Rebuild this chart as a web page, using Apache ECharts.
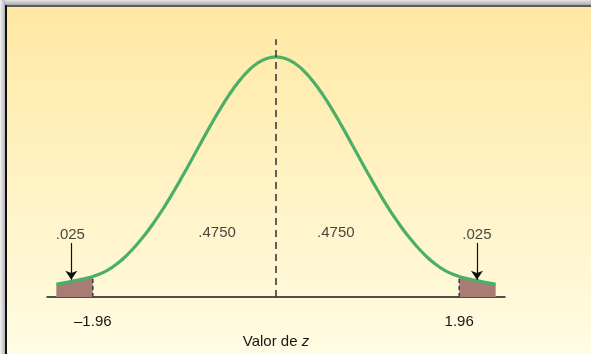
<!DOCTYPE html>
<html>
<head>
<meta charset="utf-8">
<script src="https://cdn.jsdelivr.net/npm/echarts@6/dist/echarts.min.js"></script>
<style>
  html, body { margin: 0; padding: 0; background: #ffffff; }
  #chart { width: 591px; height: 354px; }
</style>
</head>
<body>
<div id="chart"></div>
<script>
// Bell curve over the z axis (heights in density units, peak = .3989)
const curveZ = [-2.35, -2.3, -2.2, -2.1, -2.0, -1.9, -1.8, -1.7, -1.6, -1.5, -1.4, -1.3, -1.2, -1.1, -1.0,
  -0.9, -0.8, -0.7, -0.6, -0.5, -0.4, -0.3, -0.2, -0.1, 0.0, 0.1, 0.2, 0.3, 0.4, 0.5, 0.6, 0.7, 0.8, 0.9,
  1.0, 1.1, 1.2, 1.3, 1.4, 1.5, 1.6, 1.7, 1.8, 1.9, 2.0, 2.1, 2.2, 2.3, 2.35];
const curveY = [0.0217, 0.0229, 0.0256, 0.0287, 0.0323, 0.0375, 0.0448, 0.0553, 0.0689, 0.0852, 0.1040, 0.1252, 0.1486, 0.1740, 0.2009,
  0.2289, 0.2572, 0.2850, 0.3116, 0.3360, 0.3574, 0.3750, 0.3881, 0.3962, 0.3989, 0.3962, 0.3881, 0.3750, 0.3574, 0.3360, 0.3116, 0.2850, 0.2572, 0.2289,
  0.2009, 0.1740, 0.1486, 0.1252, 0.1040, 0.0852, 0.0689, 0.0553, 0.0448, 0.0375, 0.0323, 0.0287, 0.0256, 0.0229, 0.0217];

// Rejection tails (.025 each side)
const leftTailZ = [-2.35, -2.3, -2.2, -2.1, -2.0, -1.96];
const leftTailY = [0.0217, 0.0229, 0.0256, 0.0287, 0.0323, 0.0342];
const rightTailZ = [1.96, 2.0, 2.1, 2.2, 2.3, 2.35];
const rightTailY = [0.0342, 0.0323, 0.0287, 0.0256, 0.0229, 0.0217];

// Critical values and the mean line
const criticalZ = [-1.96, 1.96];
const criticalY = 0.0342;
const criticalLabels = ['\u20131.96', '1.96'];
const meanLineTop = 0.428;

// Area labels
const areaLabelText = ['.025', '.4750', '.4750', '.025'];
const areaLabelZ = [-2.2, -0.63, 0.64, 2.15];
const areaLabelY = [0.104, 0.106, 0.106, 0.104];

// Arrows pointing to the tails
const arrowZ = [-2.19, 2.15];
const arrowFromY = 0.090;
const arrowToY = 0.029;

const FONT = '"Liberation Sans", Arial, sans-serif';
const DARK = '#3a3a3a';
const TEXT = '#161616';

const pairs = (xs, ys) => xs.map((x, i) => [x, ys[i]]);

const chart = echarts.init(document.getElementById('chart'), null, { renderer: 'canvas' });

chart.setOption({
  animation: false,
  graphic: [
    // frame: grey bevel, dark edge lines, then the warm panel
    { type: 'rect', z: -10, shape: { x: 0, y: 0, width: 591, height: 354 }, style: { fill: '#bdbdbd' } },
    { type: 'rect', z: -10, shape: { x: 0, y: 0, width: 591, height: 5 },
      style: { fill: new echarts.graphic.LinearGradient(0, 0, 0, 1, [
        { offset: 0, color: '#e6e6e6' }, { offset: 1, color: '#a9a9a9' }]) } },
    { type: 'rect', z: -10, shape: { x: 0, y: 0, width: 5, height: 354 },
      style: { fill: new echarts.graphic.LinearGradient(0, 0, 1, 0, [
        { offset: 0, color: '#f2f2f2' }, { offset: 1, color: '#b5b5b5' }]) } },
    { type: 'rect', z: -9, shape: { x: 5, y: 5, width: 586, height: 2 }, style: { fill: '#5c5c5c' } },
    { type: 'rect', z: -9, shape: { x: 5, y: 5, width: 2, height: 349 }, style: { fill: '#111111' } },
    { type: 'rect', z: -8, shape: { x: 7, y: 7, width: 584, height: 347 },
      style: { fill: new echarts.graphic.LinearGradient(0, 0, 0, 1, [
        { offset: 0, color: '#ffe8a4' }, { offset: 1, color: '#fffce3' }]) } }
  ],
  grid: { left: 47, right: 86, top: 26, bottom: 53 },
  xAxis: {
    type: 'value', min: -2.45, max: 2.45,
    axisLine: { show: true, onZero: false, lineStyle: { color: '#1a1a1a', width: 1.5 } },
    axisTick: { show: false },
    splitLine: { show: false },
    axisLabel: {
      customValues: criticalZ,
      formatter: v => (v < 0 ? criticalLabels[0] : criticalLabels[1]),
      color: TEXT, fontFamily: FONT, fontSize: 15, margin: 17
    },
    name: '{a|Valor de }{b|z}',
    nameLocation: 'middle', nameGap: 19,
    nameTextStyle: {
      rich: {
        a: { fontFamily: FONT, fontSize: 15, color: TEXT },
        b: { fontFamily: FONT, fontSize: 15, fontStyle: 'italic', color: TEXT }
      }
    }
  },
  yAxis: { type: 'value', min: 0, max: 0.45, show: false },
  series: [
    { type: 'line', data: pairs(leftTailZ, leftTailY), smooth: true, symbol: 'none',
      lineStyle: { width: 0 }, areaStyle: { color: '#a77c74', opacity: 1 }, z: 2 },
    { type: 'line', data: pairs(rightTailZ, rightTailY), smooth: true, symbol: 'none',
      lineStyle: { width: 0 }, areaStyle: { color: '#a77c74', opacity: 1 }, z: 2 },
    { type: 'line', data: [[criticalZ[0], 0], [criticalZ[0], criticalY]], symbol: 'none',
      lineStyle: { color: DARK, width: 1.5, type: [4, 3] }, z: 3 },
    { type: 'line', data: [[criticalZ[1], 0], [criticalZ[1], criticalY]], symbol: 'none',
      lineStyle: { color: DARK, width: 1.5, type: [4, 3] }, z: 3 },
    { type: 'line', data: pairs(curveZ, curveY), smooth: true, symbol: 'none',
      lineStyle: { color: '#4caf68', width: 3.2 }, z: 4 },
    { type: 'line', data: [[0, 0], [0, meanLineTop]], symbol: 'none',
      lineStyle: { color: DARK, width: 1.6, type: [7, 5] }, z: 5 },
    { type: 'lines', coordinateSystem: 'cartesian2d', z: 6,
      symbol: ['none', 'arrow'], symbolSize: 9,
      lineStyle: { color: '#111111', width: 1.2, opacity: 1 },
      data: arrowZ.map(z => ({ coords: [[z, arrowFromY], [z, arrowToY]] })) },
    { type: 'scatter', symbolSize: 0, z: 7,
      data: areaLabelZ.map((z, i) => ({ value: [z, areaLabelY[i]], name: areaLabelText[i] })),
      label: { show: true, position: 'inside', formatter: p => p.name,
        fontFamily: FONT, fontSize: 15, color: TEXT } }
  ]
});
</script>
</body>
</html>
